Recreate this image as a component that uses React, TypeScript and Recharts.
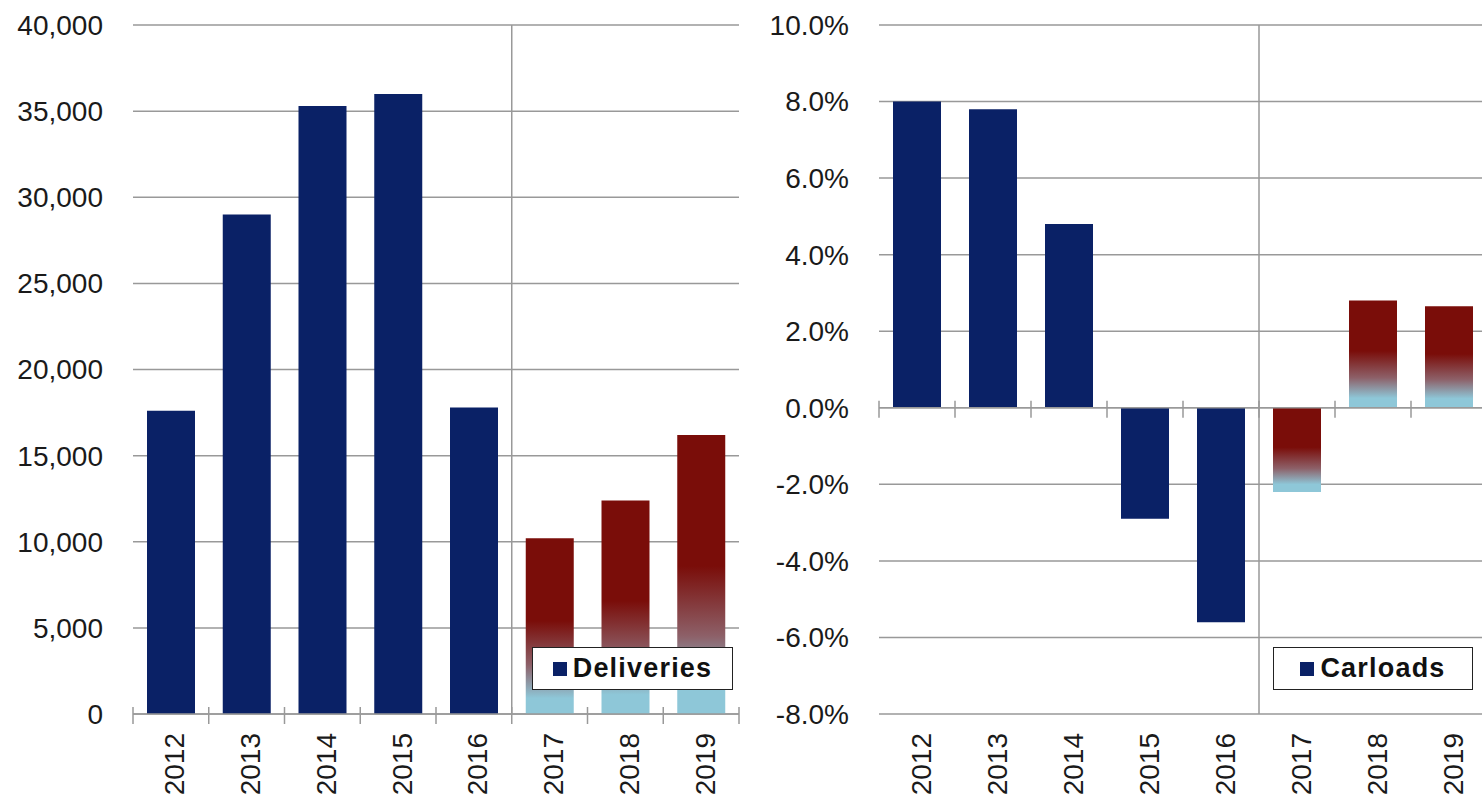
import { BarChart, Bar, Cell, XAxis, YAxis, CartesianGrid, Legend, ReferenceLine } from "recharts"

// ─── Data ──────────────────────────────────────────────────────────────────────

const YEARS = ["2012", "2013", "2014", "2015", "2016", "2017", "2018", "2019"]
const DELIVERIES = [17600, 29000, 35300, 36000, 17800, 10200, 12400, 16200]
const CARLOADS = [8.0, 7.8, 4.8, -2.9, -5.6, -2.2, 2.8, 2.65]
// 2017 onwards are projections, drawn with the red-to-blue fill
const PROJECTED = [false, false, false, false, false, true, true, true]

const DELIVERY_TICKS = [0, 5000, 10000, 15000, 20000, 25000, 30000, 35000, 40000]
const CARLOAD_TICKS = [-8, -6, -4, -2, 0, 2, 4, 6, 8, 10]

const deliveriesData = YEARS.map((year, i) => ({ year, value: DELIVERIES[i] }))
const carloadsData = YEARS.map((year, i) => ({ year, value: CARLOADS[i] }))

// ─── Styles ────────────────────────────────────────────────────────────────────

const FONT = "'Liberation Sans', Arial, Helvetica, sans-serif"
const NAVY = "#0A2166"
const GRID = "#999999"
const TEXT = "#1a1a1a"

const yTick = { fill: TEXT, fontSize: 28, fontFamily: FONT }

// ─── Pieces ────────────────────────────────────────────────────────────────────

function YearTick(props: any) {
    const { x, y, payload } = props
    const ty = y + 19
    return (
        <text
            x={x + 4}
            y={ty}
            transform={`rotate(-90, ${x + 4}, ${ty})`}
            textAnchor="end"
            dominantBaseline="central"
            fill={TEXT}
            fontSize={28}
            fontFamily={FONT}
        >
            {payload.value}
        </text>
    )
}

// category axis drawn on the zero line, ticks between categories
function ZeroAxis(props: any) {
    const { x1, y1, x2, y2 } = props
    const n = YEARS.length
    const step = (x2 - x1) / n
    return (
        <g>
            <line x1={x1} y1={y1} x2={x2} y2={y2} stroke={GRID} strokeWidth={1.5} />
            {Array.from({ length: n + 1 }, (_, i) => (
                <line
                    key={i}
                    x1={x1 + i * step}
                    x2={x1 + i * step}
                    y1={y1 - 7}
                    y2={y1 + 10}
                    stroke={GRID}
                    strokeWidth={1.5}
                />
            ))}
        </g>
    )
}

function BoxLegend({ payload }: any) {
    if (!payload?.length) return null
    return (
        <div
            style={{
                boxSizing: "border-box",
                width: "100%",
                height: "100%",
                border: "1.5px solid #222",
                background: "#fff",
                display: "flex",
                alignItems: "center",
                justifyContent: "center",
                gap: 6,
            }}
        >
            {payload.map((entry: any) => (
                <div key={entry.value} style={{ display: "flex", alignItems: "center", gap: 6 }}>
                    <span style={{ width: 14, height: 14, background: entry.color, display: "inline-block" }} />
                    <span
                        style={{
                            fontFamily: FONT,
                            fontWeight: 700,
                            fontSize: 27,
                            letterSpacing: 1.2,
                            color: "#111",
                            lineHeight: 1,
                        }}
                    >
                        {entry.value}
                    </span>
                </div>
            ))}
        </div>
    )
}

function ProjectionGradient({ id }: { id: string }) {
    return (
        <defs>
            <linearGradient id={id} x1="0" y1="0" x2="0" y2="1">
                <stop offset="0%" stopColor="#7A0D09" />
                <stop offset="47%" stopColor="#7A0D09" />
                <stop offset="72%" stopColor="#8D6068" />
                <stop offset="91%" stopColor="#8EC7D8" />
                <stop offset="100%" stopColor="#8EC7D8" />
            </linearGradient>
        </defs>
    )
}

// ─── Component ─────────────────────────────────────────────────────────────────

export default function App() {
    return (
        <div
            style={{
                position: "absolute",
                left: 0,
                top: 0,
                width: 1482,
                height: 802,
                overflow: "hidden",
                background: "#fff",
                fontFamily: FONT,
            }}
        >
            <div style={{ position: "absolute", left: 0, top: 0 }}>
                <BarChart
                    width={745}
                    height={802}
                    data={deliveriesData}
                    margin={{ top: 25, right: 6, bottom: 0, left: 0 }}
                >
                    <ProjectionGradient id="proj-deliveries" />
                    <CartesianGrid vertical={false} stroke={GRID} strokeWidth={1.5} />
                    <XAxis
                        dataKey="year"
                        height={88}
                        axisLine={false}
                        tickLine={false}
                        tickSize={0}
                        tickMargin={0}
                        interval={0}
                        tick={<YearTick />}
                    />
                    <YAxis
                        width={133}
                        domain={[0, 40000]}
                        ticks={DELIVERY_TICKS}
                        axisLine={false}
                        tickLine={false}
                        tickSize={0}
                        tickMargin={30}
                        tick={yTick}
                        tickFormatter={(v: number) => v.toLocaleString("en-US")}
                    />
                    <Legend
                        layout="horizontal"
                        verticalAlign="middle"
                        content={<BoxLegend />}
                        wrapperStyle={{ left: 532, top: 647, width: 201, height: 43 }}
                    />
                    <Bar dataKey="value" name="Deliveries" fill={NAVY} barSize={48} isAnimationActive={false}>
                        {deliveriesData.map((d, i) => (
                            <Cell key={d.year} fill={PROJECTED[i] ? "url(#proj-deliveries)" : NAVY} />
                        ))}
                    </Bar>
                    <ReferenceLine x="2016" position="end" stroke={GRID} strokeWidth={1.5} />
                    <ReferenceLine y={0} shape={<ZeroAxis />} />
                </BarChart>
            </div>

            <div style={{ position: "absolute", left: 746, top: 0 }}>
                <BarChart
                    width={741}
                    height={802}
                    data={carloadsData}
                    margin={{ top: 25, right: 0, bottom: 0, left: 0 }}
                >
                    <ProjectionGradient id="proj-carloads" />
                    <CartesianGrid vertical={false} stroke={GRID} strokeWidth={1.5} />
                    <XAxis
                        dataKey="year"
                        height={88}
                        axisLine={false}
                        tickLine={false}
                        tickSize={0}
                        tickMargin={0}
                        interval={0}
                        tick={<YearTick />}
                    />
                    <YAxis
                        width={133}
                        domain={[-8, 10]}
                        ticks={CARLOAD_TICKS}
                        axisLine={false}
                        tickLine={false}
                        tickSize={0}
                        tickMargin={30}
                        tick={yTick}
                        tickFormatter={(v: number) => `${v.toFixed(1)}%`}
                    />
                    <Legend
                        layout="horizontal"
                        verticalAlign="middle"
                        content={<BoxLegend />}
                        wrapperStyle={{ left: 527, top: 647, width: 200, height: 43 }}
                    />
                    <Bar dataKey="value" name="Carloads" fill={NAVY} barSize={48} isAnimationActive={false}>
                        {carloadsData.map((d, i) => (
                            <Cell key={d.year} fill={PROJECTED[i] ? "url(#proj-carloads)" : NAVY} />
                        ))}
                    </Bar>
                    <ReferenceLine x="2016" position="end" stroke={GRID} strokeWidth={1.5} />
                    <ReferenceLine y={0} shape={<ZeroAxis />} />
                </BarChart>
            </div>
        </div>
    )
}
